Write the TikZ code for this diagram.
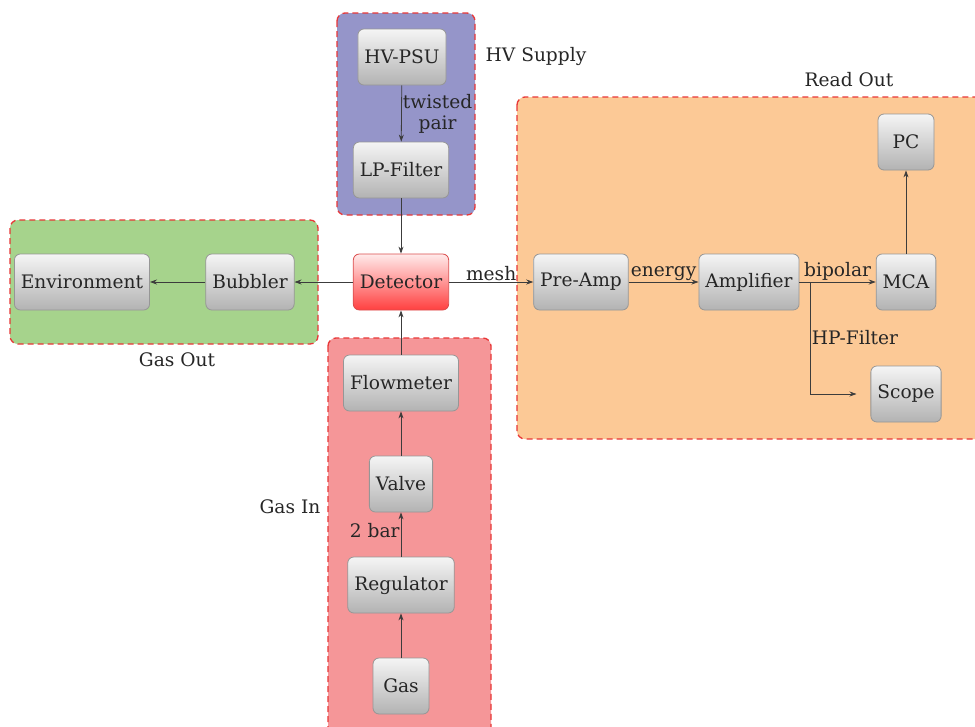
\documentclass[tikz,border=0pt]{standalone}
\usepackage{fontspec}
\setmainfont{DejaVu Serif}
\usetikzlibrary{arrows.meta}
\definecolor{hvblue}{RGB}{149,149,201}
\definecolor{outgreen}{RGB}{166,211,140}
\definecolor{roorange}{RGB}{252,201,150}
\definecolor{inpink}{RGB}{245,150,152}
\definecolor{dashred}{RGB}{232,55,55}
\definecolor{linegray}{RGB}{60,60,60}
\definecolor{boxborder}{RGB}{150,150,150}
\tikzset{
  box/.style={draw=boxborder, line width=0.8pt, rounded corners=6pt,
    top color=white!96!black, bottom color=black!30, minimum width=56pt,
    minimum height=56pt, inner xsep=6.5pt, font=\fontsize{18.6}{21}\selectfont, text=black!85},
  detbox/.style={box, draw=red!80!black!70, top color=red!8, bottom color=red!75},
  group/.style={draw=dashred, dash pattern=on 6pt off 4pt, line width=1.3pt, rounded corners=8pt},
  lbl/.style={font=\fontsize{18.6}{21}\selectfont, text=black!85, inner sep=1pt},
  arr/.style={draw=linegray, line width=0.8pt, -{Stealth[length=7pt,width=5pt]}}
}
\begin{document}
\begin{tikzpicture}[x=1pt,y=1pt]
\useasboundingbox (0,0) rectangle (975,-726);
% groups
\draw[group, fill=hvblue] (337,-13) rectangle (475,-215);
\draw[group, fill=outgreen] (10,-220) rectangle (318,-344);
\draw[group, fill=roorange] (517,-97) rectangle (990,-439);
\draw[group, fill=inpink] (328,-338) rectangle (491,-740);
% group labels
\node[lbl] (lhv) at (536,-56) {HV Supply};
\node[lbl] (lout) at (177,-360) {Gas Out};
\node[lbl] (lro) at (849,-80) {Read Out};
\node[lbl] (lin) at (290,-507) {Gas In};
% nodes
\node[box] (hvpsu) at (402,-57) {HV-PSU};
\node[box] (lpf) at (401,-170) {LP-Filter};
\node[detbox] (det) at (401,-282) {Detector};
\node[box] (bub) at (250,-282) {Bubbler};
\node[box] (env) at (82,-282) {Environment};
\node[box] (pre) at (581,-282) {Pre-Amp};
\node[box] (amp) at (749,-282) {Amplifier};
\node[box] (mca) at (906,-282) {MCA};
\node[box] (pc) at (906,-142) {PC};
\node[box] (scope) at (906,-394) {Scope};
\node[box] (flow) at (401,-383) {Flowmeter};
\node[box] (valve) at (401,-484) {Valve};
\node[box] (reg) at (401,-585) {Regulator};
\node[box] (gas) at (401,-686) {Gas};
\coordinate (branch) at (810,-282);
% connectors
\draw[arr] (hvpsu) -- node[lbl, right, align=center, xshift=0pt] {twisted\\pair} (lpf);
\draw[arr] (lpf) -- (det);
\draw[arr] (det) -- (bub);
\draw[arr] (bub) -- (env);
\draw[arr] (det) -- node[lbl, above, pos=0.5] {mesh} (pre);
\draw[arr] (pre) -- node[lbl, above] {energy} (amp);
\draw[arr] (amp) -- node[lbl, above, pos=0.5] {bipolar} (mca);
\draw[arr] (mca) -- (pc);
\draw[arr, shorten >=14pt] (branch) |- (scope);
\node[lbl] (hpf) at (855,-338) {HP-Filter};
\draw[arr] (flow) -- (det);
\draw[arr] (valve) -- (flow);
\draw[arr] (reg) -- node[lbl, left, pos=0.6] {2 bar} (valve);
\draw[arr] (gas) -- (reg);
\end{tikzpicture}
\end{document}
